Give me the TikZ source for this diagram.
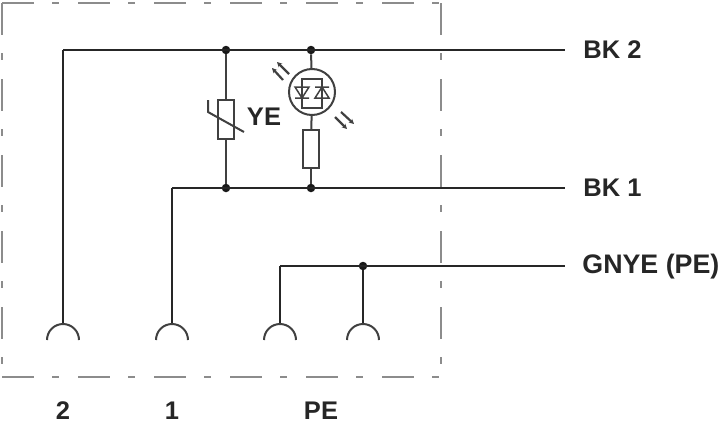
\documentclass[tikz,border=0pt]{standalone}
\usepackage{fontspec}
\setmainfont{Liberation Sans}
\usetikzlibrary{arrows.meta}
\usetikzlibrary{positioning}
\begin{document}
\begin{tikzpicture}
[x=1pt,y=-1pt,
wire/.style={line width=2.5pt,draw=black!85},
part/.style={line width=2pt,draw=black!75},
frame/.style={line width=1.8pt,draw=black!45,dash pattern=on 32pt off 18pt on 7pt off 19pt},
dot/.style={circle,fill=black!90,inner sep=0pt,minimum size=8.5pt},
pt/.style={inner sep=0pt,minimum size=0pt},
lbl/.style={inner sep=0pt,font=\bfseries\fontsize{25.5}{25.5}\selectfont,text=black!85},
light/.style={line width=2.2pt,draw=black!75,-{Stealth[length=5pt,width=5pt]}}]
\useasboundingbox (0,0) rectangle (720,423);
% frame
\draw[frame] (2,3) -- (441,3);
\draw[frame] (2,377) -- (441,377);
\draw[frame] (2,3) -- (2,377);
\draw[frame] (441,3) -- (441,377);
% junctions and ends
\node[dot] (j1) at (226,50) {};
\node[dot] (j2) at (311,50) {};
\node[dot] (j3) at (226,188) {};
\node[dot] (j4) at (311,188) {};
\node[dot] (j5) at (363,266) {};
\node[pt] (bk2end) at (565,50) {};
\node[pt] (bk1end) at (565,188) {};
\node[pt] (peend) at (565,266) {};
\node[pt] (c2) at (63,324) {};
\node[pt] (c1) at (172,324) {};
\node[pt] (c3) at (280,324) {};
\node[pt] (c4) at (363,324) {};
\node[pt] (corner2) at (63,50) {};
\node[pt] (corner1) at (172,188) {};
\node[pt] (corner3) at (280,266) {};
% parts
\node[draw,part,minimum width=16pt,minimum height=39pt,inner sep=0pt] (var) at (226,119.5) {};
\node[draw,part,minimum width=16pt,minimum height=38pt,inner sep=0pt] (res) at (311,149) {};
\node[draw,part,circle,minimum size=46pt,inner sep=0pt] (led) at (312,92) {};
\node[draw,part,minimum width=20pt,minimum height=29pt,inner sep=0pt] (ledbox) at (312,93.5) {};
% wires
\path[wire]
(corner2.center) edge (bk2end)
(corner2.center) edge (c2.center)
(corner1.center) edge (bk1end)
(corner1.center) edge (c1.center)
(corner3.center) edge (peend)
(corner3.center) edge (c3.center)
(j5) edge (c4.center);
\path[part]
(j1) edge (var)
(var) edge (j3)
(j2) edge (led)
(led) edge (res)
(res) edge (j4);
% contacts
\foreach \c in {c1,c2,c3,c4}
  \draw[part] (\c.center) ++(-16,16) arc[start angle=180,end angle=0,radius=16pt];
% varistor slash
\draw[part] (208,100) -- (208,112) -- (244,132);
% diodes
\draw[part,line width=1.5pt] (295,87) -- (309,87) -- (302,98) -- cycle (295,98) -- (309,98);
\draw[part,line width=1.5pt] (315,98) -- (329,98) -- (322,87) -- cycle (315,87) -- (329,87);
% light arrows
\draw[light] (283,80) -- (272,68);
\draw[light] (289,74) -- (277,62);
\draw[light] (335,117) -- (347,129);
\draw[light] (341,112) -- (354,124);
% labels
\node[lbl,anchor=west,right=18pt of bk2end] (bk2) {BK 2};
\node[lbl,anchor=west,right=18pt of bk1end] (bk1) {BK 1};
\node[lbl,anchor=west,right=17pt of peend,font=\bfseries\fontsize{26.8}{26.8}\selectfont,yshift=-1pt] (gnye) {GNYE (PE)};
\node[lbl] (ye) at (264,117) {YE};
\node[lbl] (pin2) at (63,411) {2};
\node[lbl] (pin1) at (172,411) {1};
\node[lbl] (pinpe) at (321,411) {PE};
\end{tikzpicture}
\end{document}
